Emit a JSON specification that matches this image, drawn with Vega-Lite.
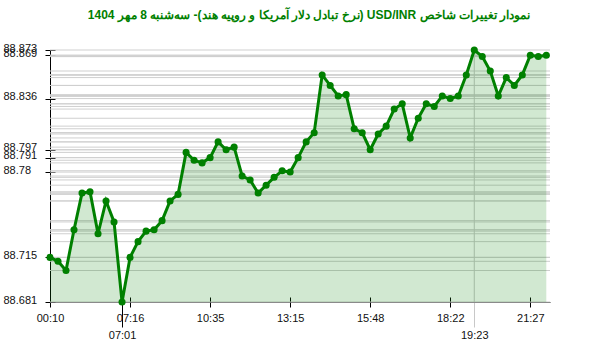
{
  "$schema": "https://vega.github.io/schema/vega-lite/v6.json",
  "width": 500,
  "height": 252,
  "autosize": {"type": "none"},
  "padding": {"left": 50, "top": 50, "right": 50, "bottom": 50},
  "background": "white",
  "title": {
    "text": "\u202bنمودار تغییرات شاخص USD/INR (نرخ تبادل دلار آمریکا و روپیه هند)- سه‌شنبه  8 مهر 1404\u202c",
    "font": "Liberation Sans",
    "fontSize": 12,
    "fontWeight": "bold",
    "color": "#008000",
    "anchor": "middle",
    "offset": 20,
    "dx": 9
  },
  "config": {
    "view": {"stroke": null},
    "axis": {"labelFont": "Liberation Sans", "labelFontSize": 11, "labelColor": "#111", "title": null}
  },
  "datasets": {
    "pts": [
      {"i": 0, "t": "00:10", "v": 88.715},
      {"i": 1, "v": 88.712},
      {"i": 2, "v": 88.705},
      {"i": 3, "v": 88.736},
      {"i": 4, "v": 88.764},
      {"i": 5, "v": 88.765},
      {"i": 6, "v": 88.733},
      {"i": 7, "v": 88.758},
      {"i": 8, "v": 88.742},
      {"i": 9, "t": "07:01", "v": 88.681},
      {"i": 10, "t": "07:16", "v": 88.715},
      {"i": 11, "v": 88.727},
      {"i": 12, "v": 88.735},
      {"i": 13, "v": 88.736},
      {"i": 14, "v": 88.743},
      {"i": 15, "v": 88.758},
      {"i": 16, "v": 88.763},
      {"i": 17, "v": 88.795},
      {"i": 18, "v": 88.789},
      {"i": 19, "v": 88.787},
      {"i": 20, "t": "10:35", "v": 88.791},
      {"i": 21, "v": 88.803},
      {"i": 22, "v": 88.797},
      {"i": 23, "v": 88.799},
      {"i": 24, "v": 88.777},
      {"i": 25, "v": 88.774},
      {"i": 26, "v": 88.764},
      {"i": 27, "v": 88.770},
      {"i": 28, "v": 88.776},
      {"i": 29, "v": 88.781},
      {"i": 30, "t": "13:15", "v": 88.780},
      {"i": 31, "v": 88.791},
      {"i": 32, "v": 88.803},
      {"i": 33, "v": 88.810},
      {"i": 34, "v": 88.854},
      {"i": 35, "v": 88.846},
      {"i": 36, "v": 88.838},
      {"i": 37, "v": 88.839},
      {"i": 38, "v": 88.813},
      {"i": 39, "v": 88.810},
      {"i": 40, "t": "15:48", "v": 88.797},
      {"i": 41, "v": 88.809},
      {"i": 42, "v": 88.815},
      {"i": 43, "v": 88.828},
      {"i": 44, "v": 88.832},
      {"i": 45, "v": 88.806},
      {"i": 46, "v": 88.821},
      {"i": 47, "v": 88.832},
      {"i": 48, "v": 88.830},
      {"i": 49, "v": 88.838},
      {"i": 50, "t": "18:22", "v": 88.836},
      {"i": 51, "v": 88.838},
      {"i": 52, "v": 88.854},
      {"i": 53, "t": "19:23", "v": 88.873},
      {"i": 54, "v": 88.868},
      {"i": 55, "v": 88.857},
      {"i": 56, "v": 88.838},
      {"i": 57, "v": 88.852},
      {"i": 58, "v": 88.846},
      {"i": 59, "v": 88.854},
      {"i": 60, "t": "21:27", "v": 88.869},
      {"i": 61, "v": 88.868},
      {"i": 62, "v": 88.869}
    ]
  },
  "data": {"name": "pts"},
  "layer": [
    {
      "mark": {"type": "rule", "stroke": "#cfcfcf", "strokeWidth": 1},
      "encoding": {
        "y": {
          "field": "v", "type": "quantitative",
          "scale": {"domain": [88.681, 88.873], "nice": false, "zero": false},
          "axis": {"orient": "left", "domain": true, "domainColor": "#000", "ticks": false, "labels": false, "grid": false}
        }
      }
    },
    {
      "transform": [
        {"joinaggregate": [{"op": "max", "field": "v", "as": "vmax"}]},
        {"filter": "datum.v === datum.vmax"}
      ],
      "mark": {"type": "rule", "stroke": "#c8c8c8", "strokeWidth": 1},
      "encoding": {
        "x": {
          "field": "i", "type": "quantitative",
          "scale": {"domain": [0, 62.46], "nice": false, "zero": false},
          "axis": {
            "orient": "bottom",
            "values": [9, 53],
            "labelExpr": "data('pts')[datum.value].t",
            "tickSize": 25,
            "labelPadding": 2,
            "labelFlush": false,
            "labelOverlap": false,
            "domain": true,
            "domainColor": "#444",
            "grid": false,
            "tickColor": {"condition": {"test": "datum.value === 9", "value": "#000"}, "value": "#c8c8c8"}
          }
        }
      }
    },
    {
      "mark": {"type": "area", "color": "#008000", "opacity": 0.18},
      "encoding": {
        "x": {"field": "i", "type": "quantitative", "scale": {"domain": [0, 62.46], "nice": false, "zero": false}, "axis": null},
        "y": {"field": "v", "type": "quantitative", "scale": {"domain": [88.681, 88.873], "nice": false, "zero": false}, "axis": null},
        "y2": {"datum": 88.681}
      }
    },
    {
      "mark": {"type": "line", "color": "#008000", "strokeWidth": 3},
      "encoding": {
        "x": {
          "field": "i", "type": "quantitative",
          "scale": {"domain": [0, 62.46], "nice": false, "zero": false},
          "axis": {
            "orient": "bottom",
            "values": [0, 10, 20, 30, 40, 50, 60],
            "labelExpr": "data('pts')[datum.value].t",
            "offset": -5,
            "tickSize": 10,
            "tickColor": "#000",
            "labelPadding": 5,
            "labelFlush": false,
            "labelOverlap": false,
            "domain": false,
            "grid": false
          }
        },
        "y": {
          "field": "v", "type": "quantitative",
          "scale": {"domain": [88.681, 88.873], "nice": false, "zero": false},
          "axis": {
            "orient": "left",
            "values": [88.681, 88.715, 88.78, 88.791, 88.797, 88.836, 88.869, 88.873],
            "format": ".3~f",
            "offset": -5,
            "tickSize": 10,
            "tickColor": "#000",
            "labelAlign": "left",
            "labelBaseline": "alphabetic",
            "labelPadding": 42,
            "labelOffset": 1,
            "labelOverlap": false,
            "labelFlush": false,
            "domain": false,
            "grid": false
          }
        }
      }
    },
    {
      "mark": {"type": "circle", "color": "#008000", "size": 50, "opacity": 1},
      "encoding": {
        "x": {"field": "i", "type": "quantitative", "scale": {"domain": [0, 62.46], "nice": false, "zero": false}, "axis": null},
        "y": {"field": "v", "type": "quantitative", "scale": {"domain": [88.681, 88.873], "nice": false, "zero": false}, "axis": null}
      }
    }
  ],
  "resolve": {"axis": {"x": "independent", "y": "independent"}}
}
